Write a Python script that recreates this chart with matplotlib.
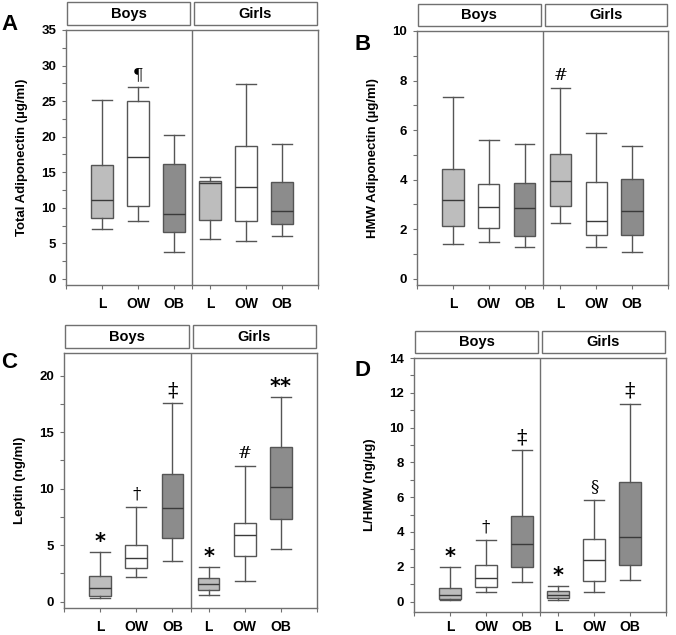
import matplotlib
matplotlib.use("Agg")
import matplotlib.pyplot as plt
from matplotlib.patches import Rectangle

plt.rcParams['font.family'] = ['Liberation Sans', 'DejaVu Sans']
plt.rcParams['font.weight'] = 'bold'

# Groups: Boys L, OW, OB, Girls L, OW, OB
groups = ["L", "OW", "OB", "L", "OW", "OB"]
sexes = ["Boys", "Girls"]

# Panel A - Total adiponectin
a_lo = [6.97, 8.14, 3.8, 5.66, 5.4, 6.0]
a_q1 = [8.56, 10.25, 6.6, 8.3, 8.14, 7.7]
a_med = [11.1, 17.2, 9.17, 13.5, 12.9, 9.6]
a_q3 = [16.05, 25.0, 16.1, 13.7, 18.7, 13.6]
a_hi = [25.2, 26.95, 20.2, 14.3, 27.4, 18.95]
a_sig = ["", "¶", "", "", "", ""]

# Panel B - HMW adiponectin
b_lo = [1.42, 1.49, 1.28, 2.25, 1.28, 1.10]
b_q1 = [2.12, 2.04, 1.72, 2.95, 1.77, 1.76]
b_med = [3.18, 2.9, 2.87, 3.95, 2.35, 2.74]
b_q3 = [4.43, 3.81, 3.88, 5.05, 3.89, 4.03]
b_hi = [7.34, 5.61, 5.42, 7.68, 5.88, 5.37]
b_sig = ["", "", "", "#", "", ""]

# Panel C - Leptin
c_lo = [0.3, 2.21, 3.59, 0.59, 1.8, 4.62]
c_q1 = [0.5, 2.94, 5.65, 1.03, 4.0, 7.33]
c_med = [1.2, 3.88, 8.3, 1.56, 5.86, 10.12]
c_q3 = [2.3, 5.03, 11.27, 2.06, 6.92, 13.68]
c_hi = [4.4, 8.38, 17.55, 3.06, 12.0, 18.1]
c_sig = ["*", "†", "‡", "*", "#", "**"]

# Panel D - L/HMW ratio
d_lo = [0.08, 0.54, 1.15, 0.08, 0.56, 1.25]
d_q1 = [0.14, 0.83, 1.96, 0.2, 1.19, 2.13]
d_med = [0.4, 1.33, 3.33, 0.39, 2.39, 3.73]
d_q3 = [0.77, 2.08, 4.94, 0.6, 3.61, 6.88]
d_hi = [1.98, 3.56, 8.70, 0.92, 5.86, 11.38]
d_sig = ["*", "†", "‡", "*", "§", "‡"]

fills = ["#bdbdbd", "#ffffff", "#8c8c8c"] * 2
line_col = "#555555"
frame_col = "#707070"

fig = plt.figure(figsize=(6.76, 6.35), dpi=100)


def panel(rect, letter, letter_xy, ylabel, ylim, major, minor, lo, q1, med, q3, hi, sig,
          xpad=5.5):
    ax = fig.add_axes(rect)
    stats = []
    for i in range(6):
        stats.append({"whislo": lo[i], "q1": q1[i], "med": med[i],
                      "q3": q3[i], "whishi": hi[i], "fliers": []})
    pos = list(range(1, 7))
    bp = ax.bxp(stats, positions=pos, widths=0.6, patch_artist=True,
                showfliers=False, capwidths=0.55,
                boxprops=dict(edgecolor=line_col, linewidth=1.0),
                medianprops=dict(color="#3a3a3a", linewidth=1.0),
                whiskerprops=dict(color=line_col, linewidth=1.0),
                capprops=dict(color=line_col, linewidth=1.0))
    for patch, fc in zip(bp["boxes"], fills):
        patch.set_facecolor(fc)

    ax.set_xlim(0, 7)
    ax.set_ylim(*ylim)
    ax.axvline(3.5, color=frame_col, lw=1.0)

    ax.set_xticks(pos)
    ax.set_xticklabels(groups, fontsize=10, fontweight="bold")
    ax.set_xticks([0, 3.5, 7], minor=True)
    ax.set_yticks(major)
    ax.set_yticklabels([str(v) for v in major], fontsize=9.5, fontweight="bold")
    ax.set_yticks(minor, minor=True)
    ax.tick_params(axis="both", which="both", direction="out", color=frame_col,
                   length=3, width=0.8)
    ax.tick_params(axis="x", which="major", pad=xpad)
    ax.tick_params(axis="y", which="major", pad=4)
    for s in ax.spines.values():
        s.set_color(frame_col)
        s.set_linewidth(1.0)

    ax.set_ylabel(ylabel, fontsize=9.5, fontweight="bold")
    ax.yaxis.set_label_coords(-0.15, 0.5)

    # significance marks above the whiskers
    for x, y, s in zip(pos, hi, sig):
        if not s:
            continue
        if "*" in s:
            ax.annotate(s, (x, y), xytext=(0, 0), textcoords="offset points",
                        ha="center", va="bottom", fontsize=15, fontweight="bold",
                        family="DejaVu Sans")
        elif s == "‡":
            ax.annotate(s, (x, y), xytext=(0, 2), textcoords="offset points",
                        ha="center", va="bottom", fontsize=15,
                        fontweight="normal", family="DejaVu Serif")
        else:
            ax.annotate(s, (x, y), xytext=(0, 3), textcoords="offset points",
                        ha="center", va="bottom", fontsize=12,
                        fontweight="normal", family="DejaVu Serif")

    # Boys / Girls header boxes
    for (x0, x1), name in zip([(0.004, 0.492), (0.508, 0.996)], sexes):
        ax.add_patch(Rectangle((x0, 1.018), x1 - x0, 0.09, transform=ax.transAxes,
                               facecolor="white", edgecolor=frame_col, lw=1.0,
                               clip_on=False))
        ax.text((x0 + x1) / 2, 1.063, name, transform=ax.transAxes, ha="center",
                va="center", fontsize=10.5, fontweight="bold")

    fig.text(letter_xy[0], letter_xy[1], letter, fontsize=16, fontweight="bold",
             ha="left", va="center")
    return ax


panel([0.0976, 0.5512, 0.3728, 0.4016], "A", (1 / 676, 1 - 25 / 635),
      "Total Adiponectin (µg/ml)", (-0.85, 35),
      [0, 5, 10, 15, 20, 25, 30, 35], [2.5, 7.5, 12.5, 17.5, 22.5, 27.5, 32.5],
      a_lo, a_q1, a_med, a_q3, a_hi, a_sig)

panel([0.6169, 0.5512, 0.3713, 0.400], "B", (354 / 676, 1 - 45 / 635),
      "HMW Adiponectin (µg/ml)", (-0.25, 10),
      [0, 2, 4, 6, 8, 10], [1, 3, 5, 7, 9],
      b_lo, b_q1, b_med, b_q3, b_hi, b_sig)

panel([0.0947, 0.0425, 0.3743, 0.4016], "C", (1 / 676, 1 - 362 / 635),
      "Leptin (ng/ml)", (-0.56, 22),
      [0, 5, 10, 15, 20], [2.5, 7.5, 12.5, 17.5],
      c_lo, c_q1, c_med, c_q3, c_hi, c_sig)

panel([0.6124, 0.0362, 0.3728, 0.400], "D", (354 / 676, 1 - 370 / 635),
      "L/HMW (ng/µg)", (-0.6, 14),
      [0, 2, 4, 6, 8, 10, 12, 14], [1, 3, 5, 7, 9, 11, 13],
      d_lo, d_q1, d_med, d_q3, d_hi, d_sig, xpad=3)

fig.savefig("out.png", dpi=100)
